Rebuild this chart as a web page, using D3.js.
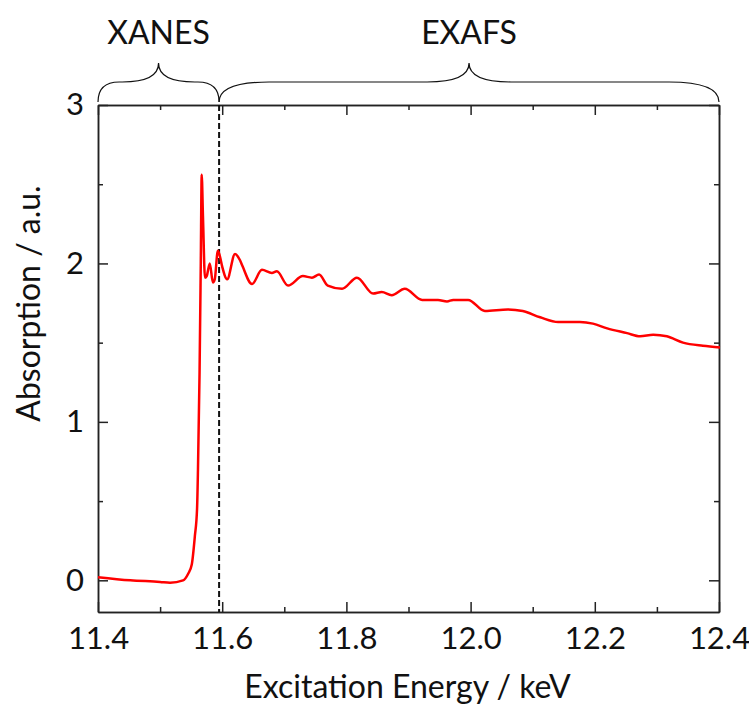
<!DOCTYPE html>
<html>
<head>
<meta charset="utf-8">
<script src="https://cdn.jsdelivr.net/npm/d3@7"></script>
<style>
  body { margin: 0; background: #fff; }
  text { font-family: Lato, "Open Sans", sans-serif; fill: #111; }
</style>
</head>
<body>
<svg id="Target" width="749" height="706"></svg>
<script>
// energy (keV) and absorption
const energy = [11.400, 11.452, 11.500, 11.516, 11.537, 11.545, 11.551, 11.556, 11.5595, 11.561, 11.5635, 11.5655, 11.567,
    11.569, 11.5723, 11.575, 11.580, 11.585, 11.588, 11.593, 11.596, 11.600, 11.608, 11.6206, 11.6287,
    11.633, 11.648, 11.664, 11.680, 11.688, 11.706, 11.730, 11.7446, 11.756, 11.770, 11.793, 11.817,
    11.843, 11.857, 11.873, 11.894, 11.922, 11.9475, 11.962, 11.972, 11.996, 12.023, 12.060, 12.084,
    12.112, 12.141, 12.176, 12.197, 12.220, 12.252, 12.273, 12.294, 12.316, 12.342, 12.374, 12.4016];
const absorption = [0.02, 0.0, -0.01, -0.015, 0.0, 0.04, 0.1, 0.28, 0.45, 0.7, 1.3, 2.0, 2.56,
    2.3, 1.91, 1.92, 2.0, 1.88, 1.90, 2.08, 2.05, 1.98, 1.90, 2.06, 2.02,
    1.98, 1.87, 1.96, 1.94, 1.95, 1.86, 1.92, 1.91, 1.93, 1.86, 1.84, 1.91,
    1.81, 1.82, 1.80, 1.84, 1.77, 1.77, 1.76, 1.77, 1.77, 1.70, 1.71, 1.70,
    1.66, 1.63, 1.63, 1.62, 1.59, 1.56, 1.54, 1.55, 1.54, 1.50, 1.48, 1.47];

const xTicks = [11.4, 11.6, 11.8, 12.0, 12.2, 12.4];
const xMinorTicks = [11.5, 11.7, 11.9, 12.1, 12.3];
const yTicks = [0, 1, 2, 3];
const yMinorTicks = [0.5, 1.5, 2.5];
const edgeEnergy = 11.595;
const regions = ["XANES", "EXAFS"];
const regionBounds = [[11.4, 11.595], [11.595, 12.4]];

const width = 749, height = 706;
const margin = { top: 105, right: 30, bottom: 94, left: 98 };
const svg = d3.select("#Target");

const x = d3.scaleLinear().domain([11.4, 12.4]).range([margin.left, width - margin.right]);
const y = d3.scaleLinear().domain([-0.2, 3]).range([height - margin.bottom, margin.top]);

function styleAxis(g) {
    g.selectAll("path, line").attr("stroke", "#222").attr("stroke-width", 1.5);
    g.selectAll("text").attr("font-size", 31).attr("fill", "#111");
}

// bottom / top: major ticks (inward) and minor ticks
svg.append("g")
    .attr("transform", `translate(0,${y.range()[0]})`)
    .call(d3.axisBottom(x).tickValues(xTicks).tickFormat(d3.format(".1f")).tickSize(-10).tickSizeOuter(0).tickPadding(15))
    .call(styleAxis);
svg.append("g")
    .attr("transform", `translate(0,${y.range()[0]})`)
    .call(d3.axisBottom(x).tickValues(xMinorTicks).tickFormat("").tickSize(-5).tickSizeOuter(0))
    .call(styleAxis);
svg.append("g")
    .attr("transform", `translate(0,${y.range()[1]})`)
    .call(d3.axisTop(x).tickValues(xTicks).tickFormat("").tickSize(-10).tickSizeOuter(0))
    .call(styleAxis);
svg.append("g")
    .attr("transform", `translate(0,${y.range()[1]})`)
    .call(d3.axisTop(x).tickValues(xMinorTicks).tickFormat("").tickSize(-5).tickSizeOuter(0))
    .call(styleAxis);

// left / right
svg.append("g")
    .attr("transform", `translate(${x.range()[0]},0)`)
    .call(d3.axisLeft(y).tickValues(yTicks).tickFormat(d3.format("d")).tickSize(-10).tickSizeOuter(0).tickPadding(14))
    .call(styleAxis);
svg.append("g")
    .attr("transform", `translate(${x.range()[0]},0)`)
    .call(d3.axisLeft(y).tickValues(yMinorTicks).tickFormat("").tickSize(-5).tickSizeOuter(0))
    .call(styleAxis);
svg.append("g")
    .attr("transform", `translate(${x.range()[1]},0)`)
    .call(d3.axisRight(y).tickValues(yTicks).tickFormat("").tickSize(-10).tickSizeOuter(0))
    .call(styleAxis);
svg.append("g")
    .attr("transform", `translate(${x.range()[1]},0)`)
    .call(d3.axisRight(y).tickValues(yMinorTicks).tickFormat("").tickSize(-5).tickSizeOuter(0))
    .call(styleAxis);

// absorption edge marker
svg.append("line")
    .attr("x1", x(edgeEnergy)).attr("x2", x(edgeEnergy))
    .attr("y1", y.range()[1]).attr("y2", y.range()[0])
    .attr("stroke", "#111")
    .attr("stroke-width", 2)
    .attr("stroke-dasharray", "6,3");

// spectrum
const line = d3.line()
    .x((d, i) => x(energy[i]))
    .y(d => y(d))
    .curve(d3.curveMonotoneX);

svg.append("path")
    .datum(absorption)
    .attr("d", line)
    .attr("fill", "none")
    .attr("stroke", "#ff0000")
    .attr("stroke-width", 2.5);

// curly braces above the plot
function bracePath(xa, xb) {
    const base = 102, mid = 82, tip = 63;
    const half = (xb - xa) / 2;
    const xm = xa + half;
    const r = Math.min(half * 0.35, 50);
    const s = Math.min(half * 0.6, 42);
    return `M${xa},${base} Q${xa},${mid} ${xa + r},${mid} L${xm - s},${mid} Q${xm},${mid} ${xm},${tip}` +
        ` Q${xm},${mid} ${xm + s},${mid} L${xb - r},${mid} Q${xb},${mid} ${xb},${base}`;
}

regions.forEach((name, i) => {
    const xa = x(regionBounds[i][0]), xb = x(regionBounds[i][1]);
    svg.append("path")
        .attr("d", bracePath(xa, xb))
        .attr("fill", "none")
        .attr("stroke", "#111")
        .attr("stroke-width", 1.2);
    svg.append("text")
        .attr("x", (xa + xb) / 2)
        .attr("y", 44)
        .attr("text-anchor", "middle")
        .attr("font-size", 32)
        .text(name);
});

// axis titles
svg.append("text")
    .attr("x", (x.range()[0] + x.range()[1]) / 2 - 1)
    .attr("y", 698)
    .attr("text-anchor", "middle")
    .attr("font-size", 32)
    .text("Excitation Energy / keV");

svg.append("text")
    .attr("transform", `translate(40,${(y.range()[0] + y.range()[1]) / 2 - 55}) rotate(-90)`)
    .attr("text-anchor", "middle")
    .attr("font-size", 32)
    .text("Absorption / a.u.");
</script>
</body>
</html>
